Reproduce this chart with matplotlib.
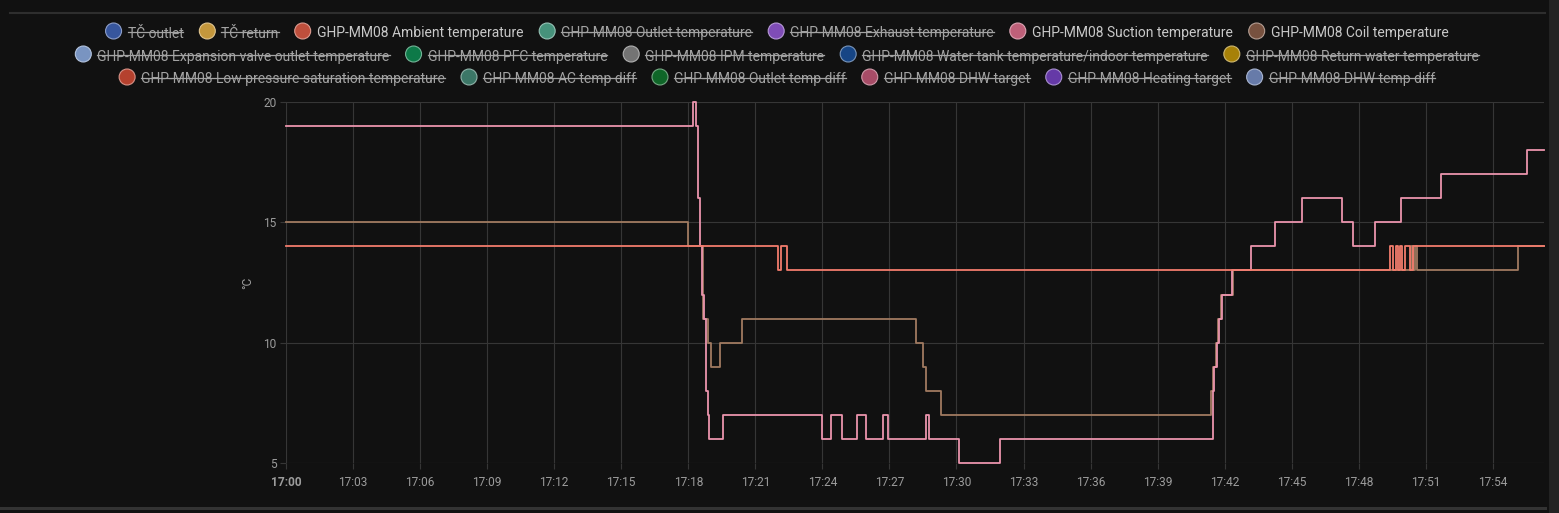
import matplotlib
matplotlib.use("Agg")
import matplotlib.pyplot as plt
from matplotlib.patches import Circle, Rectangle
from matplotlib.lines import Line2D
from matplotlib.transforms import IdentityTransform
import matplotlib.colors as mcolors

# ---------------- data (minutes after 17:00, value °C) ----------------
suction_t = [0, 18.21, 18.34, 18.43, 18.52, 18.61, 18.70, 18.79, 18.88, 18.93, 19.55,
             23.98, 24.38, 24.88, 25.55, 25.95, 26.71, 26.94, 28.64, 28.77, 30.11, 31.95,
             41.48, 41.52, 41.66, 41.74, 41.88, 42.33, 43.18, 44.25, 45.46, 47.25, 47.74,
             48.72, 49.89, 51.68, 55.53, 56.29]
suction_v = [19, 20, 19, 16, 14, 12, 11, 8, 7, 6, 7,
             6, 7, 6, 7, 6, 7, 6, 7, 6, 5, 6,
             8, 9, 10, 11, 12, 13, 14, 15, 16, 15, 14,
             15, 16, 17, 18, 18]

coil_t = [0, 17.99, 18.66, 18.88, 19.02, 19.42, 20.40, 28.19, 28.50, 28.64, 29.31,
          41.39, 41.48, 41.61, 41.70, 41.83, 42.37, 50.34, 50.43, 50.52, 50.61, 55.12, 56.29]
coil_v = [15, 14, 11, 10, 9, 10, 11, 10, 9, 8, 7,
          8, 9, 10, 11, 12, 13, 14, 13, 14, 13, 14, 14]

ambient_t = [0, 22.01, 22.15, 22.42, 49.42, 49.53, 49.69, 49.75, 49.84, 49.93,
             50.07, 50.30, 50.43, 56.29]
ambient_v = [14, 13, 14, 13, 14, 13, 14, 13, 14, 13, 14, 13, 14, 14]

x_ticks = [0, 3, 6, 9, 12, 15, 18, 21, 24, 27, 30, 33, 36, 39, 42, 45, 48, 51, 54]
x_tick_labels = ["17:00", "17:03", "17:06", "17:09", "17:12", "17:15", "17:18", "17:21",
                 "17:24", "17:27", "17:30", "17:33", "17:36", "17:39", "17:42", "17:45",
                 "17:48", "17:51", "17:54"]
y_ticks = [5, 10, 15, 20]

legend_rows = [
    ["TČ outlet", "TČ return", "GHP-MM08 Ambient temperature", "GHP-MM08 Outlet temperature",
     "GHP-MM08 Exhaust temperature", "GHP-MM08 Suction temperature", "GHP-MM08 Coil temperature"],
    ["GHP-MM08 Expansion valve outlet temperature", "GHP-MM08 PFC temperature",
     "GHP-MM08 IPM temperature", "GHP-MM08 Water tank temperature/indoor temperature",
     "GHP-MM08 Return water temperature"],
    ["GHP-MM08 Low pressure saturation temperature", "GHP-MM08 AC temp diff",
     "GHP-MM08 Outlet temp diff", "GHP-MM08 DHW target", "GHP-MM08 Heating target",
     "GHP-MM08 DHW temp diff"],
]
legend_colors = [
    ["#3a5aa6", "#cf9f3f", "#c9533f", "#4a9a82", "#8650c0", "#c8657f", "#7d5542"],
    ["#7f9ccc", "#0d7f4c", "#7a7a7a", "#17498c", "#b08808"],
    ["#bf4430", "#3f7d6c", "#0f6b2a", "#b0506c", "#6a3cb0", "#6c82b2"],
]
visible = {"GHP-MM08 Ambient temperature", "GHP-MM08 Suction temperature",
           "GHP-MM08 Coil temperature"}

# ---------------- figure ----------------
W, H, DPI = 1559, 513, 100
BG = "#111111"
plt.rcParams['font.family'] = ['Roboto', 'DejaVu Sans']
fig = plt.figure(figsize=(W / DPI, H / DPI), dpi=DPI, facecolor=BG)

x0, x1, ytop, ybot = 286, 1544, 102, 463
ax = fig.add_axes([x0 / W, (H - ybot) / H, (x1 - x0) / W, (ybot - ytop) / H])
ax.set_facecolor(BG)
for s in ax.spines.values():
    s.set_visible(False)

GRID = "#363636"
ax.set_xlim(0, 56.29)
ax.set_ylim(5, 20)
ax.set_xticks(x_ticks)
ax.set_xticklabels(x_tick_labels)
ax.set_yticks(y_ticks)
ax.grid(True, color=GRID, linewidth=0.8)
ax.tick_params(axis='both', colors=GRID, length=4, width=0.8, labelcolor="#9c9c9c",
               labelsize=8.6)
ax.tick_params(axis='x', pad=5)
ax.tick_params(axis='y', pad=3)
ax.get_xticklabels()[0].set_fontweight('bold')
ax.set_ylabel("°C", color="#9c9c9c", fontsize=8.6, labelpad=6)

ax.step(coil_t, coil_v, where='post', color="#a07a60", lw=1.3, clip_on=False, zorder=3)
ax.step(suction_t, suction_v, where='post', color="#eb94ad", lw=1.3, clip_on=False, zorder=4)
ax.step(ambient_t, ambient_v, where='post', color="#f27c6c", lw=1.3, clip_on=False, zorder=5)

# ---------------- frame decorations ----------------
pix = IdentityTransform()
fig.add_artist(Line2D([10, 1545], [H - 13, H - 13], transform=pix, color="#2e2e2e", lw=1.5))
fig.add_artist(Line2D([0, 1545], [H - 508, H - 508], transform=pix, color="#333333", lw=2.2))
fig.add_artist(Rectangle((1549, 0), 10, H, transform=pix, color="#232323", lw=0))

# ---------------- legend (manual, with strikethrough) ----------------
FS = 10.0
R = 8
GAP_TXT = 6
GAP_ITEM = 16
CENTER_X = 777
row_y = [31, 54, 77]

renderer = fig.canvas.get_renderer()
for r, (names, cols) in enumerate(zip(legend_rows, legend_colors)):
    yb = H - row_y[r]
    texts, widths = [], []
    for name in names:
        on = name in visible
        t = fig.text(0, 0, name, transform=pix, fontsize=FS, va='center_baseline',
                     ha='left', color="#c9c9c9" if on else "#a3a3a3")
        texts.append(t)
        widths.append(t.get_window_extent(renderer).width)
    total = sum(2 * R + GAP_TXT + w for w in widths) + GAP_ITEM * (len(names) - 1)
    cx = CENTER_X - total / 2
    for name, col, t, w in zip(names, cols, texts, widths):
        on = name in visible
        rgb = mcolors.to_rgb(col)
        edge = tuple(0.55 * c + 0.45 for c in rgb)
        fig.add_artist(Circle((cx + R, yb), R, transform=pix, facecolor=col,
                              edgecolor=edge, lw=0.8, alpha=0.95))
        tx = cx + 2 * R + GAP_TXT
        t.set_position((tx, yb - 1))
        if not on:
            fig.add_artist(Line2D([tx, tx + w], [yb - 0.5, yb - 0.5], transform=pix,
                                  color="#a3a3a3", lw=0.9))
        cx = tx + w + GAP_ITEM

fig.savefig("out.png", dpi=DPI, facecolor=BG)
